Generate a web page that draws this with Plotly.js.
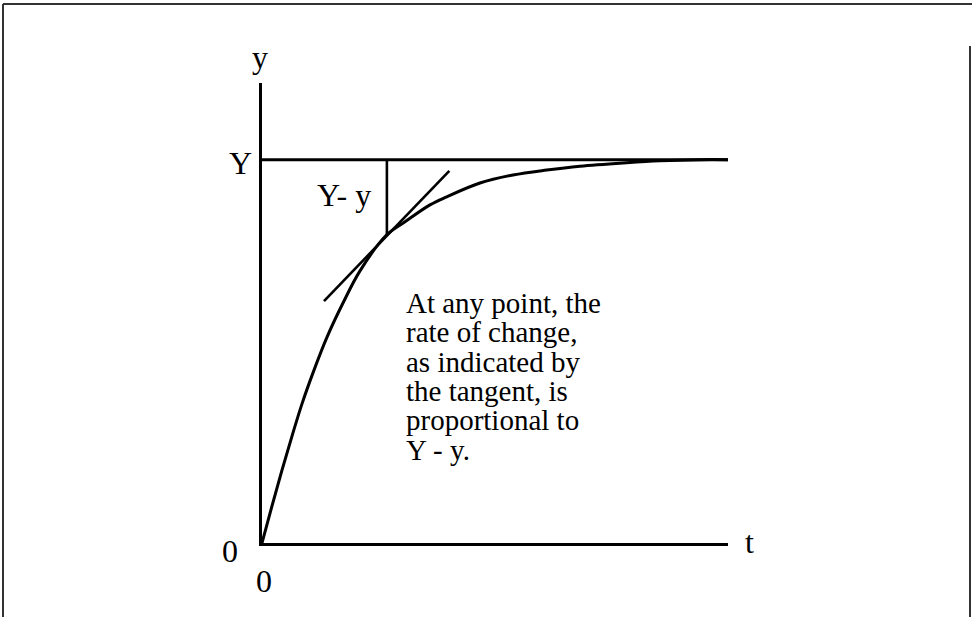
<!DOCTYPE html>
<html>
<head>
<meta charset="utf-8">
<script src="https://cdn.plot.ly/plotly-3.0.1.min.js"></script>
<style>
  html, body { margin: 0; padding: 0; background: #fff; }
  #chart { width: 973px; height: 617px; }
</style>
</head>
<body>
<div id="chart"></div>
<script>
// Approach of y towards its limit Y over time t
const curveT = [0, 0.215, 0.429, 0.644, 0.858, 1.116, 1.395, 1.738, 2.103, 2.676, 3.069, 3.605, 3.964, 4.678, 5.386, 6.109, 6.824, 7.826, 8.541, 9.4, 10];
const curveY = [0, 0.097, 0.190, 0.279, 0.363, 0.451, 0.537, 0.626, 0.710, 0.804, 0.838, 0.882, 0.903, 0.939, 0.960, 0.973, 0.983, 0.992, 0.997, 1.0, 1.0];

// Tangent drawn at the marked point
const tangentT = [1.33, 4.02];
const tangentY = [0.631, 0.971];

// Limit level Y and the gap Y - y at the marked point
const limitT = [0, 10];
const limitY = [1, 1];
const gapT = [2.68, 2.68];
const gapY = [0.804, 1.0];

const noteLines = [
  'At any point, the',
  'rate of change,',
  'as indicated by',
  'the tangent, is',
  'proportional to',
  'Y - y.'
];

const SERIF = 'Liberation Serif, Times New Roman, serif';
const ink = '#000';
const X_RANGE = [0, 10];
const Y_RANGE = [0, 1.2];

const traces = [
  { x: curveT, y: curveY, mode: 'lines', line: { color: ink, width: 3, shape: 'spline', smoothing: 1 }, hoverinfo: 'skip' },
  { x: tangentT, y: tangentY, mode: 'lines', line: { color: ink, width: 2.6 }, hoverinfo: 'skip' },
  { x: limitT, y: limitY, mode: 'lines', line: { color: ink, width: 3 }, hoverinfo: 'skip' },
  { x: gapT, y: gapY, mode: 'lines', line: { color: ink, width: 2.6 }, hoverinfo: 'skip' }
];

// Labels are placed in axis units but referenced to the paper so that
// those lying outside the axis ranges are still drawn.
function label(text, x, y, size, xanchor) {
  return { text: text,
           x: (x - X_RANGE[0]) / (X_RANGE[1] - X_RANGE[0]),
           y: (y - Y_RANGE[0]) / (Y_RANGE[1] - Y_RANGE[0]),
           xref: 'paper', yref: 'paper', showarrow: false,
           xanchor: xanchor || 'center', yanchor: 'middle',
           font: { family: SERIF, size: size, color: ink } };
}

const annotations = [
  label('y', -0.043, 1.267, 32),
  label('Y', -0.461, 0.991, 32),
  label('0', -0.676, -0.020, 32),
  label('0', 0.043, -0.099, 32),
  label('t', 10.47, 0.002, 32),
  label('Y- y', 1.753, 0.908, 32)
];
const noteY = [0.627, 0.551, 0.472, 0.397, 0.320, 0.242];
noteLines.forEach((s, i) => annotations.push(label(s, 3.04, noteY[i], 29, 'left')));

// Plot area edges in pixels, used to place the outer frame
const L = 262, R = 728, T = 83, B = 543;
const px = v => (v - L) / (R - L);
const py = v => (B - v) / (B - T);
const frame = { color: '#333', width: 2 };
const shapes = [
  { type: 'line', xref: 'paper', yref: 'paper', x0: px(3), x1: px(972), y0: py(4), y1: py(4), line: frame },
  { type: 'line', xref: 'paper', yref: 'paper', x0: px(3), x1: px(3), y0: py(4), y1: py(640), line: frame },
  { type: 'line', xref: 'paper', yref: 'paper', x0: px(970), x1: px(970), y0: py(46), y1: py(640), line: frame }
];

const layout = {
  width: 973, height: 617,
  margin: { l: L, r: 973 - R, t: T, b: 617 - B, pad: 0 },
  paper_bgcolor: '#fff', plot_bgcolor: '#fff',
  showlegend: false,
  xaxis: { range: X_RANGE, showgrid: false, zeroline: false, showticklabels: false, ticks: '',
           showline: true, linecolor: ink, linewidth: 3, fixedrange: true },
  yaxis: { range: Y_RANGE, showgrid: false, zeroline: false, showticklabels: false, ticks: '',
           showline: true, linecolor: ink, linewidth: 3, fixedrange: true },
  annotations: annotations,
  shapes: shapes
};

Plotly.newPlot('chart', traces, layout, { staticPlot: true, displayModeBar: false });
</script>
</body>
</html>
